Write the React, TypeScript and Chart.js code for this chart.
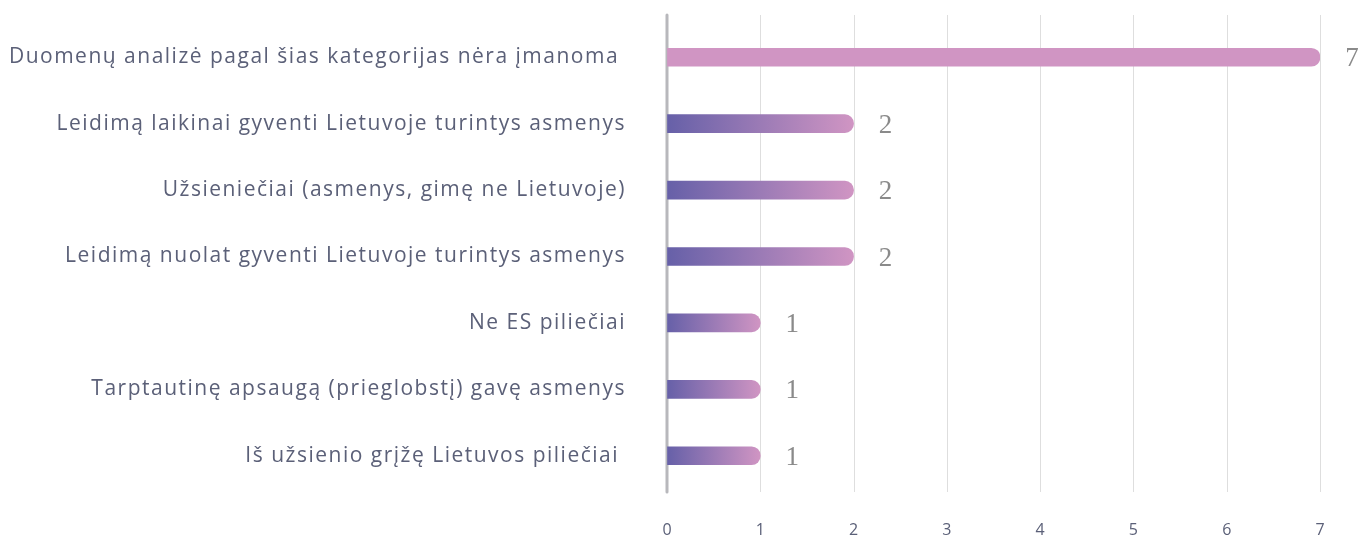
import React, { useEffect, useRef } from "react";
import { Chart, registerables } from "chart.js";

Chart.register(...registerables);

const categories = [
  "Duomenų analizė pagal šias kategorijas nėra įmanoma ",
  "Leidimą laikinai gyventi Lietuvoje turintys asmenys",
  "Užsieniečiai (asmenys, gimę ne Lietuvoje)",
  "Leidimą nuolat gyventi Lietuvoje turintys asmenys",
  "Ne ES piliečiai",
  "Tarptautinę apsaugą (prieglobstį) gavę asmenys",
  "Iš užsienio grįžę Lietuvos piliečiai ",
];
const values = [7, 2, 2, 2, 1, 1, 1];
const xTicks = [0, 1, 2, 3, 4, 5, 6, 7];

const PINK = "#d095c3";
const PURPLE = "#6660a8";
const LABEL_COLOR = "#5b6078";
const W = 1362;
const H = 538;

const decorPlugin = {
  id: "decor",
  beforeDatasetsDraw(chart: any) {
    const { ctx, scales } = chart;
    const x = scales.x;
    const top = 15;
    const bottom = 492;
    ctx.save();
    ctx.strokeStyle = "#dedede";
    ctx.lineWidth = 1;
    xTicks.forEach((t) => {
      if (t === 0) return;
      const px = Math.round(x.getPixelForValue(t)) + 0.5;
      ctx.beginPath();
      ctx.moveTo(px, top);
      ctx.lineTo(px, bottom);
      ctx.stroke();
    });
    const px0 = x.getPixelForValue(0);
    ctx.strokeStyle = "#b8b8bc";
    ctx.lineWidth = 3;
    ctx.lineCap = "round";
    ctx.beginPath();
    ctx.moveTo(px0, top);
    ctx.lineTo(px0, bottom);
    ctx.stroke();
    ctx.restore();
  },
  afterDatasetsDraw(chart: any) {
    const { ctx } = chart;
    const meta = chart.getDatasetMeta(0);
    ctx.save();
    ctx.fillStyle = "#8a8a8a";
    ctx.font = "27px 'Liberation Serif', 'DejaVu Serif', serif";
    ctx.textAlign = "center";
    ctx.textBaseline = "middle";
    meta.data.forEach((bar: any, i: number) => {
      ctx.fillText(String(values[i]), bar.x + 32, bar.y + 2);
    });
    ctx.restore();
  },
};

const spacingPlugin = {
  id: "ySpacing",
  beforeDraw(ch: any) {
    const y = ch.scales.y;
    if (!y.__patched) {
      y.__patched = true;
      const origDraw = y.drawLabels;
      y.drawLabels = function (area: any) {
        const cx = this.ctx as any;
        const prev = cx.letterSpacing;
        cx.letterSpacing = "1.5px";
        origDraw.call(this, area);
        cx.letterSpacing = prev || "0px";
      };
    }
  },
};

export default function App() {
  const canvasRef = useRef<HTMLCanvasElement>(null);

  useEffect(() => {
    document.body.style.margin = "0";
    const canvas = canvasRef.current;
    if (!canvas) return;
    const chart = new Chart(canvas, {
      type: "bar",
      data: {
        labels: categories,
        datasets: [
          {
            data: values,
            barThickness: 18,
            borderRadius: 9,
            borderSkipped: "start",
            backgroundColor: (c: any) => {
              const ch = c.chart;
              if (!ch.chartArea || c.dataIndex === undefined) return PINK;
              if (c.dataIndex === 0) return PINK;
              const xs = ch.scales.x;
              const x0 = xs.getPixelForValue(0);
              const x1 = xs.getPixelForValue(values[c.dataIndex]);
              const g = ch.ctx.createLinearGradient(x0, 0, x1, 0);
              g.addColorStop(0, PURPLE);
              g.addColorStop(1, PINK);
              return g;
            },
          },
        ],
      },
      options: {
        indexAxis: "y",
        animation: false,
        responsive: false,
        devicePixelRatio: 1,
        layout: { padding: { top: 24, right: 42, left: 0, bottom: 0 } },
        plugins: {
          legend: { display: false },
          tooltip: { enabled: false },
        },
        scales: {
          x: {
            min: 0,
            max: 7,
            grid: {
              display: true,
              drawOnChartArea: false,
              drawTicks: true,
              tickLength: 32,
              tickColor: "rgba(0,0,0,0)",
            },
            border: { display: false },
            ticks: {
              stepSize: 1,
              padding: 0,
              color: LABEL_COLOR,
              font: { family: "'Open Sans', sans-serif", size: 16 },
            },
            afterFit(scale: any) {
              scale.height = 49;
            },
          },
          y: {
            grid: {
              display: true,
              drawOnChartArea: false,
              drawTicks: true,
              tickLength: 41,
              tickColor: "rgba(0,0,0,0)",
            },
            border: { display: false },
            ticks: {
              padding: 0,
              color: LABEL_COLOR,
              font: { family: "'Open Sans', sans-serif", size: 21 },
            },
            afterFit(scale: any) {
              scale.width = 667;
            },
          },
        },
      },
      plugins: [decorPlugin, spacingPlugin],
    });
    return () => chart.destroy();
  }, []);

  return (
    <div style={{ width: W, height: H }}>
      <canvas ref={canvasRef} width={W} height={H} style={{ display: "block" }} />
    </div>
  );
}
